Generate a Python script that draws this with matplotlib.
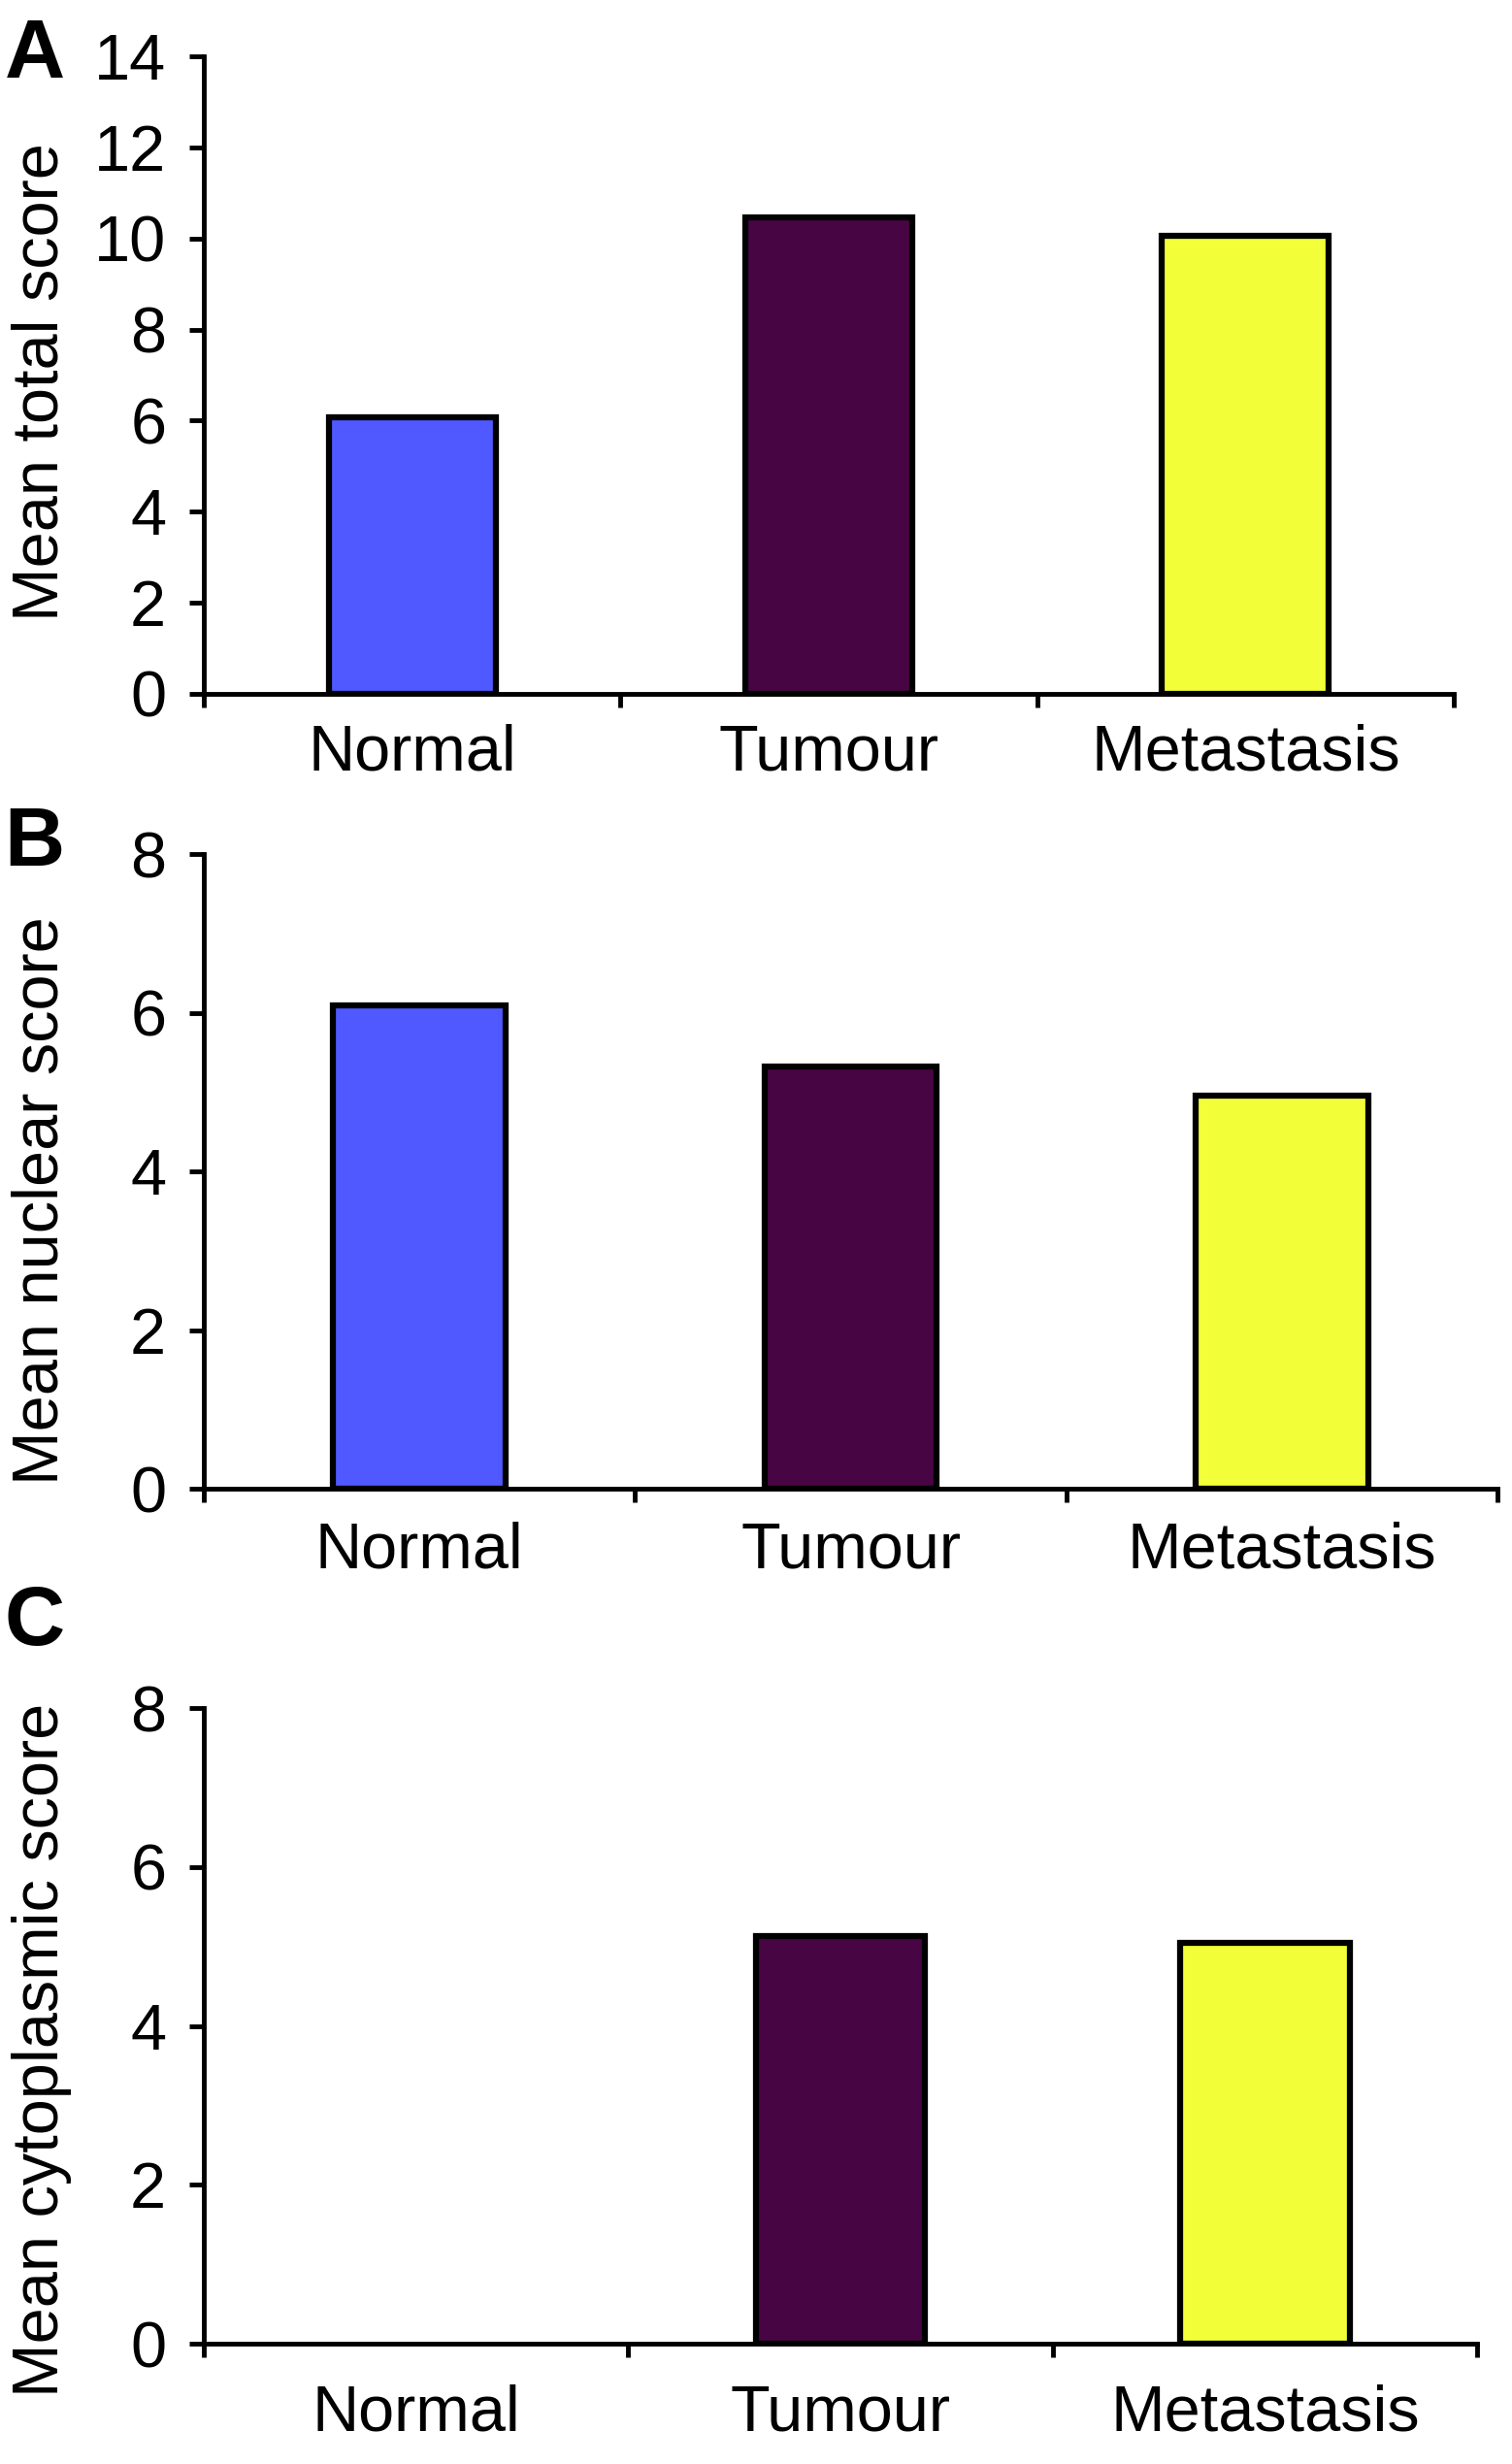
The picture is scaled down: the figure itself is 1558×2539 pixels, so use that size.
import matplotlib
matplotlib.use("Agg")
import matplotlib.pyplot as plt

plt.rcParams['font.family'] = ['Liberation Sans', 'DejaVu Sans']

categories = ["Normal", "Tumour", "Metastasis"]
total_score = [6.07, 10.46, 10.06]
nuclear_score = [6.09, 5.32, 4.95]
cytoplasmic_score = [0.0, 5.13, 5.04]
colors = ["#4F59FF", "#480544", "#F2FF38"]

panels = [
    dict(letter="A", values=total_score, ylabel="Mean total score", ymax=14, yticks=[0, 2, 4, 6, 8, 10, 12, 14],
         rect=[0.1348, 0.7184, 0.8267, 0.2588], label_y=0.845, letter_y=0.993, xpad=22),
    dict(letter="B", values=nuclear_score, ylabel="Mean nuclear score", ymax=8, yticks=[0, 2, 4, 6, 8],
         rect=[0.1348, 0.3958, 0.8556, 0.2576], label_y=0.5128, letter_y=0.673, xpad=24),
    dict(letter="C", values=cytoplasmic_score, ylabel="Mean cytoplasmic score", ymax=8, yticks=[0, 2, 4, 6, 8],
         rect=[0.1348, 0.0488, 0.8421, 0.2580], label_y=0.168, letter_y=0.357, xpad=30),
]

W, H = 1558, 2539
fig = plt.figure(figsize=(W / 100, H / 100), dpi=100)
fs = 48
lw = 3.5

for p in panels:
    ax = fig.add_axes(p["rect"])
    x = list(range(len(categories)))
    vals = p["values"]
    for xi, v, c in zip(x, vals, colors):
        if v > 0:
            ax.bar(xi, v, width=0.4, color=c, edgecolor="black", linewidth=4.5, zorder=2)
    ax.set_xlim(-0.5, len(categories) - 0.5)
    ax.set_ylim(0, p["ymax"])
    ax.set_yticks(p["yticks"])
    ax.set_yticklabels([str(t) for t in p["yticks"]], fontsize=fs)
    ax.set_xticks([i - 0.5 for i in range(len(categories) + 1)])
    ax.set_xticklabels([""] * (len(categories) + 1))
    ax.set_xticks(x, minor=True)
    ax.set_xticklabels(categories, minor=True, fontsize=fs)
    ax.tick_params(axis="x", which="major", length=10, width=lw, direction="out")
    ax.tick_params(axis="x", which="minor", length=0, pad=p["xpad"])
    ax.tick_params(axis="y", which="major", length=11, width=lw, direction="out", pad=17)
    for s in ["top", "right"]:
        ax.spines[s].set_visible(False)
    for s in ["left", "bottom"]:
        ax.spines[s].set_linewidth(lw)
        ax.spines[s].set_zorder(3)
    ax.spines["left"].set_capstyle("projecting")
    fig.text(0.0275, p["label_y"], p["ylabel"], rotation=90, fontsize=fs, ha="center", va="center")
    fig.text(0.003, p["letter_y"], p["letter"], fontsize=62, fontweight="bold", ha="left", va="top")

fig.savefig("out.png", dpi=100, facecolor="white")
